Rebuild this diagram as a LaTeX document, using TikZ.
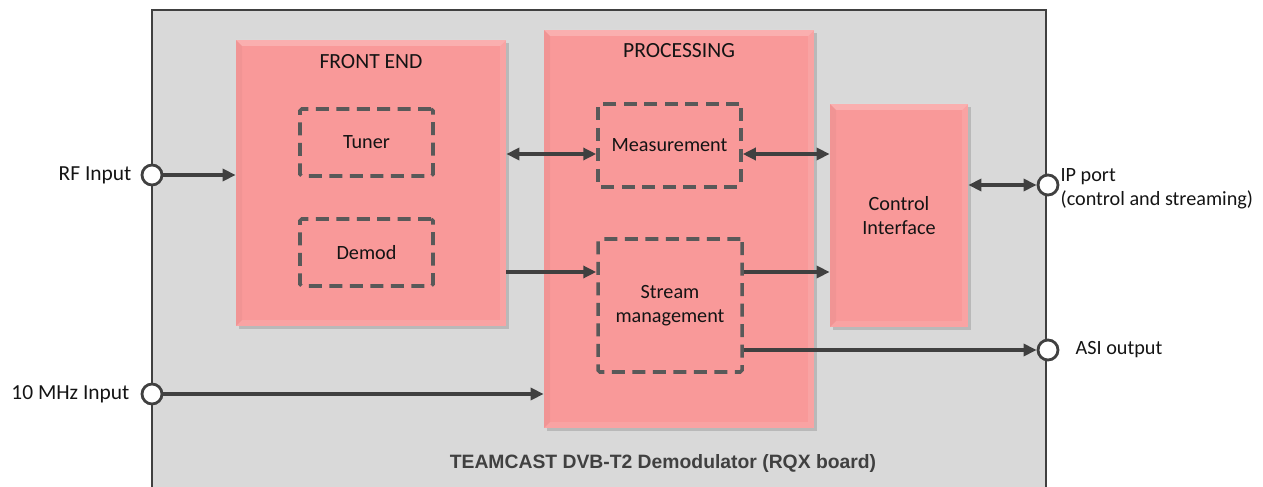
\documentclass[tikz,border=0pt]{standalone}
\usepackage{fontspec}
\setmainfont{Carlito}
\newfontfamily\arialfont{Liberation Sans}
\usepackage{tikz}
\usetikzlibrary{positioning,arrows.meta,shadows}
\definecolor{boardgray}{RGB}{217,217,217}
\definecolor{boxpink}{RGB}{249,153,153}
\definecolor{linegray}{RGB}{64,64,64}
\definecolor{dashgray}{RGB}{89,89,89}
\definecolor{textgray}{RGB}{20,20,20}

\begin{document}
\begin{tikzpicture}[
    font=\fontsize{11.5}{13.5}\selectfont, text=textgray,
    board/.style={shape=rectangle, fill=boardgray, draw=linegray, line width=0.8pt, inner sep=0pt},
    block/.style={shape=rectangle, fill=boxpink, draw=none, inner sep=0pt, align=center,
        drop shadow={opacity=0.35, shadow xshift=0.06cm, shadow yshift=-0.06cm},
        path picture={
            \fill[white, opacity=0.22] (path picture bounding box.north west) -- (path picture bounding box.north east)
                -- ([shift={(-0.12,-0.12)}]path picture bounding box.north east) -- ([shift={(0.12,-0.12)}]path picture bounding box.north west) -- cycle;
            \fill[white, opacity=0.1] (path picture bounding box.south west) -- (path picture bounding box.south east)
                -- ([shift={(-0.12,0.12)}]path picture bounding box.south east) -- ([shift={(0.12,0.12)}]path picture bounding box.south west) -- cycle;
            \fill[white, opacity=0.1] (path picture bounding box.north east) -- (path picture bounding box.south east)
                -- ([shift={(-0.12,0.12)}]path picture bounding box.south east) -- ([shift={(-0.12,-0.12)}]path picture bounding box.north east) -- cycle;
            \fill[black, opacity=0.03] (path picture bounding box.north west) -- (path picture bounding box.south west)
                -- ([shift={(0.12,0.12)}]path picture bounding box.south west) -- ([shift={(0.12,-0.12)}]path picture bounding box.north west) -- cycle;
        }},
    title/.style={font=\fontsize{12.3}{14}\selectfont},
    outer/.style={font=\fontsize{12.2}{14}\selectfont},
    sub/.style={shape=rectangle, draw=dashgray, line width=2pt, dash pattern=on 0.26cm off 0.15cm,
        rounded corners=1pt, inner sep=0pt, align=center},
    port/.style={shape=circle, draw=linegray, fill=white, line width=1.6pt, minimum size=0.4cm, inner sep=0pt},
    wire/.style={draw=linegray, line width=2pt, -{Triangle[length=0.26cm,width=0.24cm]}},
    biwire/.style={wire, {Triangle[length=0.26cm,width=0.24cm]}-{Triangle[length=0.26cm,width=0.24cm]}},
]
    \useasboundingbox (0,0) rectangle (25.26,9.72);
    \node[board, minimum width=17.88cm, minimum height=10.02cm] at (11.98,4.51) (rqx) {};
    \node[font=\arialfont\bfseries\fontsize{11}{13}\selectfont, text=linegray] at (13.26,0.46) (rqxlabel) {TEAMCAST DVB-T2 Demodulator (RQX board)};

    \node[block, minimum width=5.4cm, minimum height=5.72cm] at (7.42,6.06) (fe) {};
    \node[title, below=0.18cm of fe.north] (fetitle) {FRONT END};
    \node[sub, minimum width=2.66cm, minimum height=1.34cm] at (7.33,6.87) (tuner) {Tuner};
    \node[sub, minimum width=2.66cm, minimum height=1.34cm] at (7.33,4.67) (demod) {Demod};

    \node[block, minimum width=5.4cm, minimum height=7.96cm] at (13.58,5.14) (proc) {};
    \node[title, below=0.16cm of proc.north] (proctitle) {PROCESSING};
    \node[sub, minimum width=2.86cm, minimum height=1.66cm] at (13.39,6.81) (meas) {Measurement};
    \node[sub, minimum width=2.88cm, minimum height=2.66cm] at (13.40,3.61) (stream) {Stream\\management};

    \node[block, minimum width=2.76cm, minimum height=4.46cm] at (17.98,5.41) (ctrl) {Control\\Interface};

    \node[port] at (3.04,6.22) (rf) {};
    \node[port] at (3.04,1.84) (ref) {};
    \node[port] at (20.96,6.02) (ip) {};
    \node[port] at (20.96,2.72) (asi) {};
    \node[outer, left=0.06cm of rf] (rflabel) {RF Input};
    \node[outer, left=0.1cm of ref] (reflabel) {10 MHz Input};
    \node[right=-0.1cm of ip, yshift=-0.08cm, align=left] (iplabel) {IP port\\(control and streaming)};
    \node[right=0.2cm of asi] (asilabel) {ASI output};

    \coordinate (measin) at ([yshift=-0.17cm]meas.west);
    \coordinate (measout) at ([yshift=-0.17cm]meas.east);
    \coordinate (streamin) at ([yshift=0.67cm]stream.west);
    \coordinate (streamout) at ([yshift=0.67cm]stream.east);

    \path (rf) edge[wire] (rf -| fe.west);
    \path (fe.east |- measin) edge[biwire] (measin);
    \path (measout) edge[biwire] (ctrl.west |- measout);
    \path (ctrl.east |- ip) edge[biwire] (ip);
    \path (fe.east |- streamin) edge[wire] (streamin);
    \path (streamout) edge[wire] (ctrl.west |- streamout);
    \path (asi -| stream.east) edge[wire] (asi);
    \path (ref) edge[wire] (ref -| proc.west);
\end{tikzpicture}
\end{document}
